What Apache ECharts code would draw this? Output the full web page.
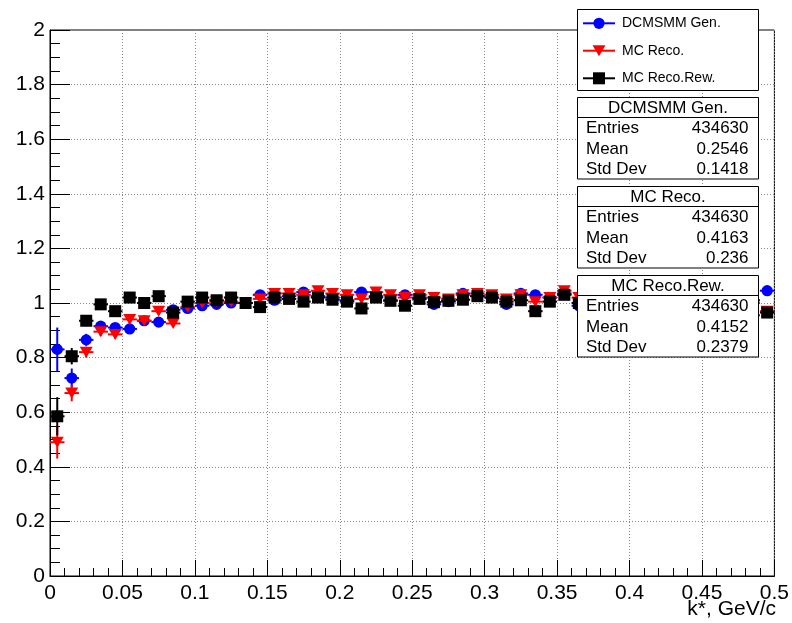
<!DOCTYPE html>
<html><head><meta charset="utf-8">
<script src="https://cdn.jsdelivr.net/npm/echarts@6/dist/echarts.min.js"></script>
<style>html,body{margin:0;padding:0;background:#fff}#c{width:792px;height:623px}</style>
</head><body><div id="c"></div><script>
// bin centres (k*, GeV/c), bin width 0.01
const binCenters = [0.005,0.015,0.025,0.035,0.045,0.055,0.065,0.075,0.085,0.095,
  0.105,0.115,0.125,0.135,0.145,0.155,0.165,0.175,0.185,0.195,
  0.205,0.215,0.225,0.235,0.245,0.255,0.265,0.275,0.285,0.295,
  0.305,0.315,0.325,0.335,0.345,0.355,0.365,0.375,0.385,0.395,
  0.405,0.415,0.425,0.435,0.445,0.455,0.465,0.475,0.485,0.495];
const binHalfWidth = 0.005;

const genValues = [0.83,0.725,0.865,0.915,0.91,0.905,0.935,0.93,0.975,0.98,
  0.99,0.995,1.0,1.0,1.03,1.01,1.025,1.04,1.025,1.02,
  1.01,1.04,1.025,1.01,1.03,1.02,0.995,1.005,1.035,1.025,
  1.02,0.995,1.035,1.03,1.02,1.035,0.99,1.0,1.01,0.99,
  1.02,1.0,1.01,0.99,1.0,1.02,0.98,1.01,0.955,1.045];
const genErrors = [0.08,0.035,0.022,0.018,0.016,0.015,0.014,0.013,0.013,0.012,
  0.012,0.012,0.012,0.012,0.012,0.012,0.012,0.012,0.012,0.012,
  0.012,0.012,0.012,0.012,0.012,0.012,0.012,0.012,0.012,0.012,
  0.012,0.012,0.012,0.012,0.012,0.012,0.012,0.012,0.012,0.012,
  0.012,0.012,0.012,0.012,0.012,0.012,0.012,0.012,0.012,0.012];

const recoValues = [0.49,0.67,0.82,0.895,0.885,0.94,0.935,0.97,0.925,0.985,
  1.0,1.005,1.005,1.0,1.015,1.035,1.035,1.03,1.045,1.035,
  1.03,1.015,1.04,1.03,1.02,1.03,1.02,1.015,1.03,1.035,
  1.03,1.015,1.03,1.005,1.02,1.045,1.02,1.03,1.01,1.04,
  1.02,1.03,1.01,1.02,1.04,1.03,1.02,1.01,1.0,0.97];
const recoErrors = [0.06,0.03,0.02,0.016,0.015,0.014,0.013,0.013,0.012,0.012,
  0.012,0.012,0.012,0.012,0.012,0.012,0.012,0.012,0.012,0.012,
  0.012,0.012,0.012,0.012,0.012,0.012,0.012,0.012,0.012,0.012,
  0.012,0.012,0.012,0.012,0.012,0.012,0.012,0.012,0.012,0.012,
  0.012,0.012,0.012,0.012,0.012,0.012,0.012,0.012,0.012,0.012];

const rewValues = [0.585,0.805,0.935,0.995,0.97,1.02,1.0,1.025,0.965,1.005,
  1.02,1.01,1.02,1.0,0.985,1.02,1.015,1.005,1.02,1.012,
  1.005,0.98,1.02,1.008,0.99,1.015,1.003,1.008,1.012,1.025,
  1.02,1.005,1.01,0.97,1.005,1.03,1.0,1.01,0.99,1.02,
  1.0,1.01,0.99,1.0,1.015,0.995,1.005,1.0,1.01,0.965];
const rewErrors = [0.07,0.03,0.02,0.016,0.015,0.014,0.013,0.013,0.012,0.012,
  0.012,0.012,0.012,0.012,0.012,0.012,0.012,0.012,0.012,0.012,
  0.012,0.012,0.012,0.012,0.012,0.012,0.012,0.012,0.012,0.012,
  0.012,0.012,0.012,0.012,0.012,0.012,0.012,0.012,0.012,0.012,
  0.012,0.012,0.012,0.012,0.012,0.012,0.012,0.012,0.012,0.012];

const seriesNames = ['DCMSMM Gen.', 'MC Reco.', 'MC Reco.Rew.'];
const statLabels = ['Entries', 'Mean', 'Std Dev'];
const statGen = ['434630', '0.2546', '0.1418'];
const statReco = ['434630', '0.4163', '0.236'];
const statRew = ['434630', '0.4152', '0.2379'];

const xTicks = {min: 0, max: 0.5, interval: 0.05};
const yTicks = {min: 0, max: 2, interval: 0.2};
const xTitle = 'k*, GeV/c';

const FONT = "'Liberation Sans', Arial, Helvetica, sans-serif";
const colors = ['#0000ff', '#ff0000', '#000000'];
const shapes = ['circle', 'triangle', 'square'];

function markerEl(shape, cx, cy, color) {
  if (shape === 'circle') return {type: 'circle', shape: {cx, cy, r: 5.6}, style: {fill: color}};
  if (shape === 'square') return {type: 'rect', shape: {x: cx - 6, y: cy - 6, width: 12, height: 12}, style: {fill: color}};
  return {type: 'polygon', shape: {points: [[cx - 6.5, cy - 5.5], [cx + 6.5, cy - 5.5], [cx, cy + 5.5]]}, style: {fill: color}};
}

function makeRender(shape, color) {
  return function (params, api) {
    const x = api.value(0), y = api.value(1), e = api.value(2);
    const c = api.coord([x, y]);
    const lo = api.coord([x - binHalfWidth, y]);
    const hi = api.coord([x + binHalfWidth, y]);
    const top = api.coord([x, y + e]);
    const bot = api.coord([x, y - e]);
    const st = {stroke: color, lineWidth: 2};
    return {type: 'group', children: [
      {type: 'line', shape: {x1: lo[0], y1: c[1], x2: hi[0], y2: c[1]}, style: st},
      {type: 'line', shape: {x1: c[0], y1: top[1], x2: c[0], y2: bot[1]}, style: st},
      markerEl(shape, c[0], c[1], color)
    ]};
  };
}

function buildData(vals, errs) { return binCenters.map((x, i) => [x, vals[i], errs[i]]); }
const allVals = [genValues, recoValues, rewValues];
const allErrs = [genErrors, recoErrors, rewErrors];

const series = seriesNames.map((name, k) => ({
  type: 'custom', name, z: 3 + k,
  renderItem: makeRender(shapes[k], colors[k]),
  encode: {x: 0, y: 1},
  data: buildData(allVals[k], allErrs[k])
}));

// graphic overlays: legend + stat boxes
const graphics = [];
const LX = 577, LW = 181;
graphics.push({type: 'rect', z: 100, shape: {x: LX + 0.5, y: 9.5, width: LW, height: 81}, style: {fill: '#fff', stroke: '#000', lineWidth: 1}});
const legRows = [23.3, 50.7, 78.3];
seriesNames.forEach((n, k) => {
  const y = legRows[k];
  graphics.push({type: 'line', z: 101, shape: {x1: 583, y1: y, x2: 615, y2: y}, style: {stroke: colors[k], lineWidth: 2}});
  const m = markerEl(shapes[k], 599, y, colors[k]);
  m.z = 102;
  graphics.push(m);
  graphics.push({type: 'text', z: 102, style: {text: n, x: 622, y: y, textVerticalAlign: 'middle', fill: '#000', font: '14px ' + FONT}});
});

const statBoxes = [
  {title: seriesNames[0], vals: statGen, top: 97.5},
  {title: seriesNames[1], vals: statReco, top: 186.5},
  {title: seriesNames[2], vals: statRew, top: 275.5}
];
statBoxes.forEach(b => {
  graphics.push({type: 'rect', z: 100, shape: {x: LX + 0.5, y: b.top, width: LW, height: 81.5}, style: {fill: '#fff', stroke: '#000', lineWidth: 1}});
  graphics.push({type: 'line', z: 101, shape: {x1: LX + 0.5, y1: b.top + 20, x2: LX + 0.5 + LW, y2: b.top + 20}, style: {stroke: '#000', lineWidth: 1}});
  graphics.push({type: 'text', z: 102, style: {text: b.title, x: LX + LW / 2 + 0.5, y: b.top + 10.5, textAlign: 'center', textVerticalAlign: 'middle', fill: '#000', font: '17px ' + FONT}});
  statLabels.forEach((lab, i) => {
    const y = b.top + 31 + i * 20.5;
    graphics.push({type: 'text', z: 102, style: {text: lab, x: 586, y, textVerticalAlign: 'middle', fill: '#000', font: '17px ' + FONT}});
    graphics.push({type: 'text', z: 102, style: {text: b.vals[i], x: 748.5, y, textAlign: 'right', textVerticalAlign: 'middle', fill: '#000', font: '17px ' + FONT}});
  });
});
graphics.push({type: 'text', z: 50, style: {text: xTitle, x: 776, y: 609, textAlign: 'right', textVerticalAlign: 'middle', fill: '#000', font: '21px ' + FONT}});

const chart = echarts.init(document.getElementById('c'), null, {renderer: 'canvas'});
chart.setOption({
  animation: false,
  backgroundColor: '#fff',
  grid: {left: 50, right: 16, top: 30, bottom: 47, show: true, borderColor: '#000', borderWidth: 1, backgroundColor: '#fff'},
  xAxis: {
    type: 'value', min: xTicks.min, max: xTicks.max, interval: xTicks.interval,
    axisLine: {show: true, lineStyle: {color: '#000', width: 1}},
    axisTick: {show: true, inside: true, length: 16, lineStyle: {color: '#000'}},
    minorTick: {show: true, splitNumber: 5, length: 8, lineStyle: {color: '#000'}},
    axisLabel: {color: '#000', fontSize: 21, fontFamily: FONT, margin: 7},
    splitLine: {show: true, lineStyle: {color: '#888', type: [1, 2], width: 1}}
  },
  yAxis: {
    type: 'value', min: yTicks.min, max: yTicks.max, interval: yTicks.interval,
    axisLine: {show: true, lineStyle: {color: '#000', width: 1}},
    axisTick: {show: true, inside: true, length: 20, lineStyle: {color: '#000'}},
    minorTick: {show: true, splitNumber: 4, length: 10, lineStyle: {color: '#000'}},
    axisLabel: {color: '#000', fontSize: 21, fontFamily: FONT, margin: 5},
    splitLine: {show: true, lineStyle: {color: '#888', type: [1, 2], width: 1}}
  },
  series,
  graphic: {elements: graphics}
});
</script></body></html>
